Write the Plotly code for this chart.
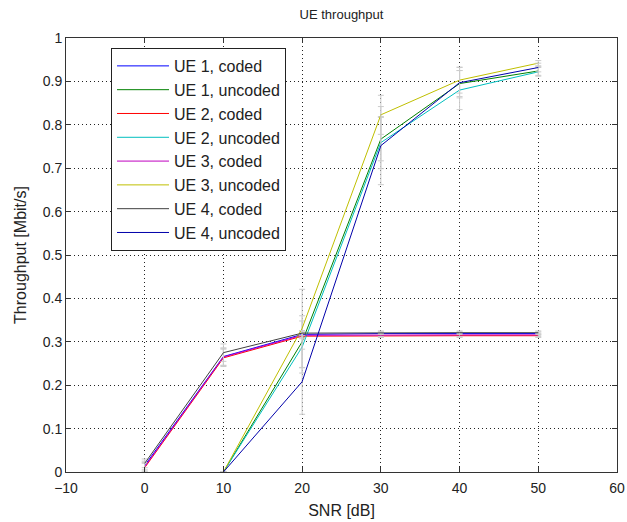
import plotly.graph_objects as go

snr_coded = [0, 10, 20, 30, 40, 50]
snr_uncoded = [10, 20, 30, 40, 50]

ue1_coded = [0.015, 0.266, 0.317, 0.319, 0.319, 0.319]
ue1_uncoded = [0.0, 0.300, 0.767, 0.895, 0.924]
ue2_coded = [0.010, 0.263, 0.313, 0.314, 0.314, 0.314]
ue2_uncoded = [0.0, 0.288, 0.759, 0.880, 0.922]
ue3_coded = [0.012, 0.265, 0.315, 0.316, 0.316, 0.316]
ue3_uncoded = [0.0, 0.331, 0.823, 0.903, 0.942]
ue4_coded = [0.020, 0.275, 0.320, 0.321, 0.321, 0.321]
ue4_uncoded = [0.0, 0.208, 0.752, 0.897, 0.932]

err_coded = [0.01, 0.02, 0.006, 0.004, 0.004, 0.004]
err_ue1_uncoded = [0.0, 0.06, 0.05, 0.03, 0.01]
err_ue2_uncoded = [0.0, 0.06, 0.06, 0.045, 0.01]
err_ue3_uncoded = [0.0, 0.09, 0.045, 0.03, 0.006]
err_ue4_uncoded = [0.0, 0.075, 0.09, 0.035, 0.01]

names = ["UE 1, coded", "UE 1, uncoded", "UE 2, coded", "UE 2, uncoded",
         "UE 3, coded", "UE 3, uncoded", "UE 4, coded", "UE 4, uncoded"]
colors = ["#0000ff", "#008000", "#ff0000", "#00bfbf",
          "#bf00bf", "#bfbf00", "#404040", "#0000aa"]

series = [
    (snr_coded, ue1_coded, err_coded),
    (snr_uncoded, ue1_uncoded, err_ue1_uncoded),
    (snr_coded, ue2_coded, err_coded),
    (snr_uncoded, ue2_uncoded, err_ue2_uncoded),
    (snr_coded, ue3_coded, err_coded),
    (snr_uncoded, ue3_uncoded, err_ue3_uncoded),
    (snr_coded, ue4_coded, err_coded),
    (snr_uncoded, ue4_uncoded, err_ue4_uncoded),
]

fig = go.Figure()
for i, (x, y, e) in enumerate(series):
    fig.add_trace(go.Scatter(
        x=x, y=y, mode="lines", name=names[i],
        line=dict(color=colors[i], width=1),
        error_y=dict(type="data", array=e, visible=True, color="#cccccc",
                     thickness=1, width=3),
        legendgroup="g%d" % i,
    ))

font = "Liberation Sans, Arial, sans-serif"
axis_common = dict(
    showline=True, linecolor="#333333", linewidth=1, mirror="ticks",
    ticks="inside", ticklen=5, tickcolor="#333333",
    showgrid=True, gridcolor="#222222", griddash="1px,3px", gridwidth=1,
    zeroline=False, automargin=False, ticklabeloverflow="allow",
    tickfont=dict(size=14, color="#222222", family=font),
)

fig.update_layout(
    width=627, height=522,
    paper_bgcolor="white", plot_bgcolor="white",
    margin=dict(l=66, r=10, t=38, b=50),
    title=dict(text="UE throughput", x=0.5, xref="paper",
               y=0.973, yref="container", yanchor="middle",
               font=dict(size=13, color="#222222", family=font)),
    font=dict(family=font, color="#222222"),
    xaxis=dict(range=[-10, 60], tickvals=list(range(-10, 61, 10)),
               ticklabelstandoff=3,
               title=dict(text="SNR [dB]", font=dict(size=16), standoff=10),
               **axis_common),
    yaxis=dict(range=[0, 1], tickvals=[i / 10 for i in range(11)],
               ticktext=["0", "0.1", "0.2", "0.3", "0.4", "0.5", "0.6", "0.7", "0.8", "0.9", "1"],
               title=dict(text="Throughput [Mbit/s]", font=dict(size=16), standoff=12),
               **axis_common),
    legend=dict(x=0.0817, y=0.977, xanchor="left", yanchor="top",
                bgcolor="white", bordercolor="#222222", borderwidth=1,
                font=dict(size=16, color="#222222", family=font),
                itemwidth=52, tracegroupgap=2, traceorder="normal"),
    showlegend=True,
)

fig.write_html("out.html", config={"displayModeBar": False},
               post_script="document.body.style.margin='0px';")
